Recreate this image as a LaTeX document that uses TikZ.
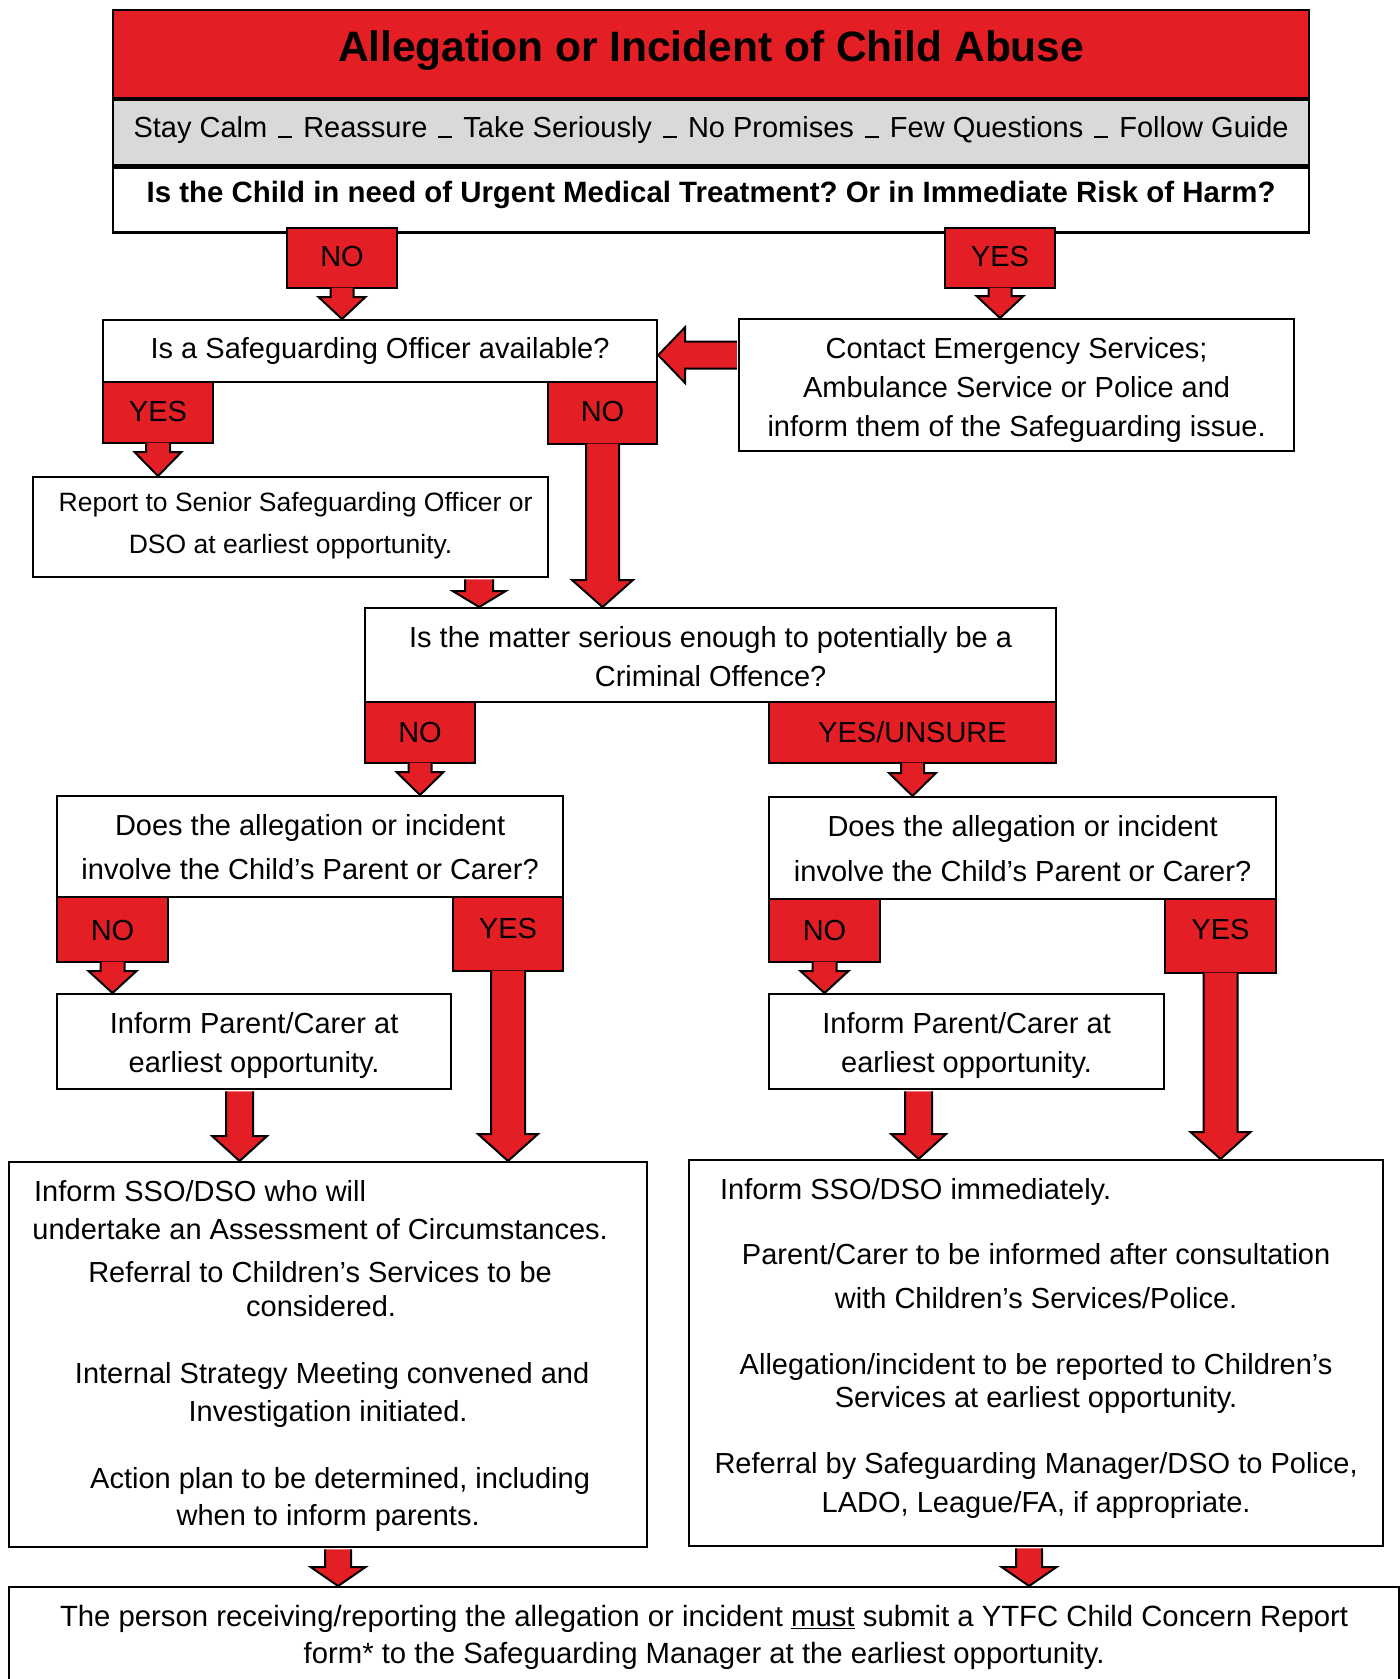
\documentclass[tikz,border=0pt]{standalone}
\usepackage{fontspec}
\setmainfont{Liberation Sans}
\usetikzlibrary{calc}
\usetikzlibrary{positioning}
\frenchspacing

\definecolor{abusered}{HTML}{E31E24}
\definecolor{calmgray}{HTML}{D9D9D9}

\newcommand{\bodyfont}{\fontsize{29pt}{39pt}\selectfont}
\newcommand{\barsep}{\hspace{11pt}\rule[-1pt]{14pt}{2.5pt}\hspace{11pt}}
% text with its baseline at #1 below (negative) or above the node centre
\newcommand{\tagtext}[2]{\raisebox{#1}[0pt][0pt]{#2}}
% several lines, the first baseline at #1 from the node centre
\newcommand{\boxrows}[2]{\raisebox{#1}[0pt][0pt]{\begin{tabular}[t]{@{}c@{}}#2\end{tabular}}}

\tikzset{box/.style = {draw, line width=2.2pt, fill=white, inner sep=0pt,
                       font=\bodyfont, anchor=north west},
         redtag/.style = {box, line width=2pt, fill=abusered},
         fatfill/.style = {draw, line width=2pt, fill=abusered, line join=miter}}

% fat arrow pointing down: [overlap] from, to, stem half width, head half width, head length
\newcommand{\fatdown}[6][1.5]{%
  \filldraw[fatfill] let \p1=(#2), \p2=(#3) in
    (\x1-#4pt,\y1+#1pt) -- (\x1-#4pt,\y2+#6pt) -- (\x1-#5pt,\y2+#6pt) -- (\x2,\y2)
    -- (\x1+#5pt,\y2+#6pt) -- (\x1+#4pt,\y2+#6pt) -- (\x1+#4pt,\y1+#1pt);}

\begin{document}
\begin{tikzpicture}[x=1pt, y=-1pt]
  \path[use as bounding box, clip] (0,0) rectangle (1400,1679);

  % header
  \node[box, fill=abusered, minimum width=1196pt, minimum height=88pt,
        font=\fontsize{42.5pt}{50pt}\selectfont\bfseries] (title) at (112,9)
        {\tagtext{-7pt}{Allegation or Incident of Child Abuse}};
  \node[box, fill=calmgray, minimum width=1196pt, minimum height=65pt, anchor=north] (calm) at (title.south)
        {\tagtext{-4.5pt}{Stay Calm\barsep Reassure\barsep Take Seriously\barsep No Promises\barsep Few Questions\barsep Follow Guide}};
  \node[box, minimum width=1196pt, minimum height=65pt, anchor=north,
        font=\fontsize{29.4pt}{39pt}\selectfont\bfseries] (urgent) at (calm.south)
        {\tagtext{-2pt}{Is the Child in need of Urgent Medical Treatment? Or in Immediate Risk of Harm?}};

  \node[redtag, minimum width=110pt, minimum height=60pt] (no1) at (286,227) {\tagtext{-8.4pt}{NO}};
  \node[redtag, minimum width=110pt, minimum height=60pt] (yes1) at (944,227) {\tagtext{-8pt}{YES}};

  \node[box, minimum width=554pt, minimum height=62pt] (safe) at (102,319)
        {\tagtext{-7pt}{Is a Safeguarding Officer available?}};
  \node[box, minimum width=555pt, minimum height=132pt] (emerg) at (738,318)
        {\boxrows{27pt}{Contact Emergency Services;\\ Ambulance Service or Police and\\ inform them of the Safeguarding issue.}};

  \node[redtag, minimum width=110pt, minimum height=61pt] (yesa) at (102,381) {\tagtext{-8.5pt}{YES}};
  \node[redtag, minimum width=109pt, minimum height=62pt] (noa) at (547,381) {\tagtext{-8pt}{NO}};

  \node[box, minimum width=515pt, minimum height=100pt, font=\fontsize{26.5pt}{42pt}\selectfont] (report) at (32,476)
        {\boxrows{16pt}{\hspace*{10pt}Report to Senior Safeguarding Officer or\\ DSO at earliest opportunity.}};

  \node[box, minimum width=691pt, minimum height=94pt] (crim) at (364,607)
        {\boxrows{8pt}{Is the matter serious enough to potentially be a\\ Criminal Offence?}};
  \node[redtag, minimum width=110pt, minimum height=61pt] (nob) at (364,701) {\tagtext{-9.5pt}{NO}};
  \node[redtag, minimum width=287pt, minimum height=61pt] (yesu) at (768,701) {\tagtext{-10pt}{YES/UNSURE}};

  \node[box, minimum width=506pt, minimum height=101pt, font=\fontsize{29pt}{44pt}\selectfont] (parentl) at (56,795)
        {\boxrows{11.5pt}{Does the allegation or incident\\ involve the Child’s Parent or Carer?}};
  \node[box, minimum width=507pt, minimum height=102pt, font=\fontsize{29pt}{45pt}\selectfont] (parentr) at (768,796)
        {\boxrows{12pt}{Does the allegation or incident\\ involve the Child’s Parent or Carer?}};

  \node[redtag, minimum width=111pt, minimum height=65pt] (noc) at (56,896) {\tagtext{-11pt}{NO}};
  \node[redtag, minimum width=110pt, minimum height=74pt] (yesc) at (452,896) {\tagtext{-4pt}{YES}};
  \node[redtag, minimum width=111pt, minimum height=63pt] (nod) at (768,898) {\tagtext{-10pt}{NO}};
  \node[redtag, minimum width=111pt, minimum height=74pt] (yesd) at (1164,898) {\tagtext{-3.5pt}{YES}};

  \node[box, minimum width=394pt, minimum height=95pt] (informl) at (56,993)
        {\boxrows{8.5pt}{Inform Parent/Carer at\\ earliest opportunity.}};
  \node[box, minimum width=395pt, minimum height=95pt] (informr) at (768,993)
        {\boxrows{8.5pt}{Inform Parent/Carer at\\ earliest opportunity.}};

  \node[box, minimum width=638pt, minimum height=385pt, font=\fontsize{29pt}{37pt}\selectfont] (bigl) at (8,1161)
        {\boxrows{153.5pt}{\makebox[590pt][l]{\hspace{1pt}Inform SSO/DSO who will}\\[1pt]
         undertake an Assessment of Circumstances.\hspace*{16pt}\\[6pt]
         Referral to Children’s Services to be\hspace*{16pt}\\[-3pt]
         considered.\hspace*{14pt}\\[30pt]
         \hspace*{8pt}Internal Strategy Meeting convened and\\[1pt]
         Investigation initiated.\\[30pt]
         \hspace*{24pt}Action plan to be determined, including\\
         when to inform parents.}};
  \node[box, minimum width=694pt, minimum height=386pt, font=\fontsize{29pt}{37pt}\selectfont] (bigr) at (688,1159)
        {\boxrows{154pt}{\makebox[650pt][l]{\hspace{9pt}Inform SSO/DSO immediately.}\\[28pt]
         Parent/Carer to be informed after consultation\\[7pt]
         with Children’s Services/Police.\\[29pt]
         Allegation/incident to be reported to Children’s\\[-4pt]
         Services at earliest opportunity.\\[29pt]
         Referral by Safeguarding Manager/DSO to Police,\\[2pt]
         LADO, League/FA, if appropriate.}};

  \node[box, minimum width=1390pt, minimum height=100pt, font=\fontsize{29.3pt}{37pt}\selectfont] (concern) at (8,1586)
        {\boxrows{11pt}{The person receiving/reporting the allegation or incident \underline{must} submit a YTFC Child Concern Report\\
         form* to the Safeguarding Manager at the earliest opportunity.}};

  % arrows
  \fatdown{no1.south}{no1.south |- safe.north}{11.5}{23.5}{22}
  \fatdown{yes1.south}{yes1.south |- emerg.north}{11.5}{23.5}{22}
  \fatdown{yesa.south}{yesa.south |- report.north}{12}{23.5}{24}
  \fatdown{noa.south}{noa.south |- crim.north}{16.5}{30.5}{27}
  \coordinate (reportout) at ([xshift=-70pt]report.south east);
  \fatdown[-1.2]{reportout}{reportout |- crim.north}{14}{26.5}{16}

  \coordinate (back) at ([yshift=-4pt]safe.east);
  \filldraw[fatfill] let \p1=(emerg.west |- back), \p2=(back) in
    (\x1-1.2pt,\y1+13.5pt) -- (\x2+27pt,\y1+13.5pt) -- (\x2+27pt,\y1+28pt) -- (\x2,\y2)
    -- (\x2+27pt,\y1-28pt) -- (\x2+27pt,\y1-13.5pt) -- (\x1-1.2pt,\y1-13.5pt);

  \fatdown{nob.south}{nob.south |- parentl.north}{11.5}{23.5}{23}
  \fatdown{yesu.south}{yesu.south |- parentr.north}{11.5}{23.5}{23}
  \fatdown{noc.south}{noc.south |- informl.north}{12}{24}{22}
  \fatdown{nod.south}{nod.south |- informr.north}{12}{24}{22}
  \fatdown{yesc.south}{yesc.south |- bigl.north}{17}{30}{27}
  \fatdown{yesd.south}{yesd.south |- bigr.north}{17}{30}{27}

  \coordinate (informlout) at ([xshift=-14.5pt]informl.south);
  \coordinate (informrout) at ([xshift=-48pt]informr.south);
  \fatdown[-1.2]{informlout}{informlout |- bigl.north}{13.5}{27.5}{25}
  \fatdown[-1.2]{informrout}{informrout |- bigr.north}{13.5}{27.5}{25}

  \coordinate (biglout) at ([xshift=10pt]bigl.south);
  \coordinate (bigrout) at ([xshift=-7pt]bigr.south);
  \fatdown[-1.2]{biglout}{biglout |- concern.north}{13}{27.5}{19}
  \fatdown[-1.2]{bigrout}{bigrout |- concern.north}{13}{27.5}{19}
\end{tikzpicture}
\end{document}
